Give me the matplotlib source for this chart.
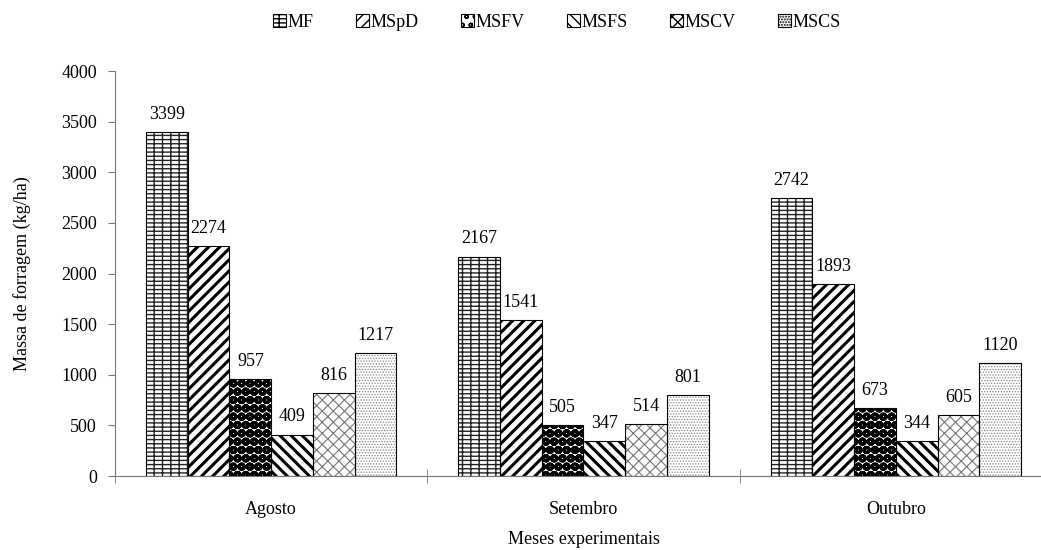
import numpy as np
import matplotlib
matplotlib.use("Agg")
import matplotlib.pyplot as plt
from matplotlib.patches import Patch

# data
meses = ["Agosto", "Setembro", "Outubro"]
series = ["MF", "MSpD", "MSFV", "MSFS", "MSCV", "MSCS"]
MF = [3399, 2167, 2742]
MSpD = [2274, 1541, 1893]
MSFV = [957, 505, 673]
MSFS = [409, 347, 344]
MSCV = [816, 514, 605]
MSCS = [1217, 801, 1120]
valores = [MF, MSpD, MSFV, MSFS, MSCV, MSCS]

# hatch, hatch colour, hatch line width for each series
hatches = ["----||", "///", "oo", "\\\\\\", "xxx", "......"]
hatch_colors = ["#222222", "black", "black", "black", "#777777", "#888888"]
hatch_lw = [1.0, 2.2, 3.6, 2.2, 0.8, 0.6]

plt.rcParams["font.family"] = ["Liberation Serif", "DejaVu Serif"]
plt.rcParams["font.size"] = 13

fig = plt.figure(figsize=(10.41, 5.5), dpi=100)
ax = fig.add_axes([0.1105, 0.1345, 0.9, 0.7364])

x = np.arange(len(meses))
w = 0.1336
handles = []
for i, (nome, vals) in enumerate(zip(series, valores)):
    pos = x + (i - 2.5) * w
    bars = ax.bar(pos, vals, w, color="white", edgecolor=hatch_colors[i],
                  hatch=hatches[i], linewidth=0, zorder=2)
    for b in bars:
        try:
            b.set_hatch_linewidth(hatch_lw[i])
        except AttributeError:
            pass
    ax.bar(pos, vals, w, fill=False, edgecolor="black", linewidth=0.8, zorder=3)
    for p, v in zip(pos, vals):
        ax.text(p, v + 90, str(v), ha="center", va="bottom", fontsize=13)
    h = Patch(facecolor="white", edgecolor="black", hatch=hatches[i], linewidth=0.8)
    try:
        h.set_hatch_linewidth(hatch_lw[i] * 0.5)
    except AttributeError:
        pass
    handles.append(h)

ax.set_xlim(-0.5, 2.5)
ax.set_ylim(0, 4000)
ax.set_yticks(np.arange(0, 4001, 500))
ax.set_xticks(x)
ax.set_xticklabels(meses)
ax.tick_params(axis="x", length=0, pad=18)
ax.set_xticks([-0.5, 0.5, 1.5], minor=True)
ax.tick_params(axis="x", which="minor", direction="inout", length=10, color="#777777")
ax.tick_params(axis="y", direction="out", length=5, color="#777777", pad=8)

for s in ["top", "right"]:
    ax.spines[s].set_visible(False)
for s in ["left", "bottom"]:
    ax.spines[s].set_color("#777777")

ax.set_ylabel("Massa de forragem (kg/ha)", fontsize=13, labelpad=22)
ax.set_xlabel("Meses experimentais", fontsize=13, labelpad=9)

fig.legend(handles, series, loc="upper center", bbox_to_anchor=(0.535, 1.005),
           ncol=6, frameon=False, fontsize=13, handlelength=0.7, handleheight=0.7,
           handletextpad=0.1, columnspacing=2.35)

fig.savefig("out.png", dpi=100)
